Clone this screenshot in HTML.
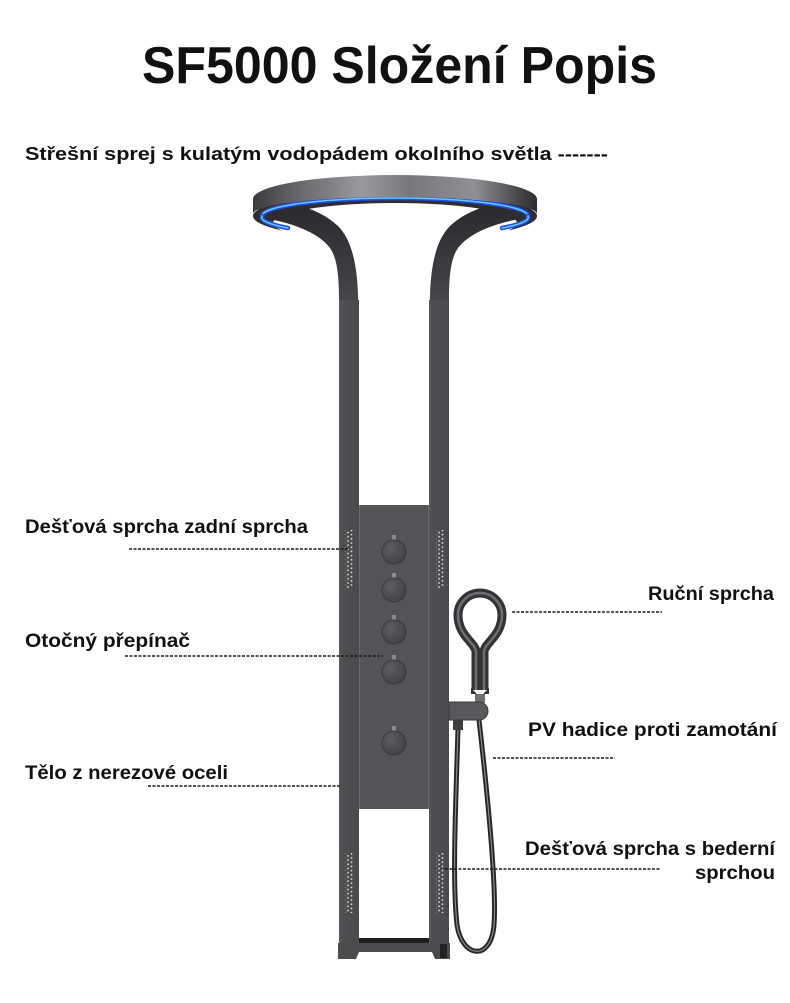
<!DOCTYPE html>
<html><head><meta charset="utf-8"><style>
html,body{margin:0;padding:0;background:#fff;}
svg{display:block;}
text{font-family:"Liberation Sans",Arial,sans-serif;font-weight:bold;fill:#111;}
</style></head><body>
<svg width="790" height="1003" viewBox="0 0 790 1003" xmlns="http://www.w3.org/2000/svg">
<defs>
<linearGradient id="band" x1="0" y1="0" x2="1" y2="0">
<stop offset="0" stop-color="#3a3a3e"/><stop offset="0.12" stop-color="#5e5e62"/>
<stop offset="0.38" stop-color="#9a9a9e"/><stop offset="0.55" stop-color="#78787c"/>
<stop offset="0.78" stop-color="#909094"/><stop offset="0.93" stop-color="#4a4a4e"/>
<stop offset="1" stop-color="#2c2c30"/></linearGradient>
<linearGradient id="armL" x1="0" y1="0" x2="0" y2="1">
<stop offset="0" stop-color="#2a2a2e"/><stop offset="0.6" stop-color="#3e3e42"/><stop offset="1" stop-color="#4f4f52"/></linearGradient>
<linearGradient id="col" x1="0" y1="0" x2="1" y2="0">
<stop offset="0" stop-color="#5a5a5d"/><stop offset="0.15" stop-color="#4f4f52"/><stop offset="1" stop-color="#4a4a4d"/></linearGradient>
<radialGradient id="knob" cx="0.35" cy="0.35" r="0.8">
<stop offset="0" stop-color="#5e5e61"/><stop offset="1" stop-color="#3e3e41"/></radialGradient>
<pattern id="dots" x="0" y="0" width="7" height="4.2" patternUnits="userSpaceOnUse">
<circle cx="1.5" cy="1.2" r="0.9" fill="#dcdcdc"/><circle cx="5" cy="3.3" r="0.9" fill="#dcdcdc"/></pattern>
</defs>

<text x="142" y="83" font-size="52" textLength="515" lengthAdjust="spacingAndGlyphs">SF5000 Složení Popis</text>
<text x="25" y="160" font-size="18" textLength="583" lengthAdjust="spacingAndGlyphs">Střešní sprej s kulatým vodopádem okolního světla -------</text>

<!-- ring underside -->
<ellipse cx="395" cy="216" rx="142" ry="24" fill="#2e2e32"/>
<ellipse cx="395" cy="223" rx="122" ry="20" fill="#fff"/>

<!-- arms -->
<path d="M262,218 C290,222 318,232 330,248 C337,258 339,275 339,300 L339,322 L359,322 L358,295 C357,265 352,240 338,226 C325,214 310,208 295,205 Z" fill="url(#armL)"/>
<path d="M526,218 C498,222 470,232 458,248 C451,258 449,275 449,300 L449,322 L429,322 L430,295 C431,265 436,240 450,226 C463,214 478,208 493,205 Z" fill="url(#armL)"/>

<!-- blue LED -->
<g fill="none" stroke-linecap="round">
<path d="M262,216 A133,18 0 0 1 528,216" stroke="#1f4fe0" stroke-width="4.5"/>
<path d="M262,216 A133,18 0 0 1 528,216" stroke="#6cc6ff" stroke-width="1.5"/>
<path d="M262,216 A133,18 0 0 0 288,228" stroke="#1f4fe0" stroke-width="4.5"/>
<path d="M262,216 A133,18 0 0 0 288,228" stroke="#6cc6ff" stroke-width="1.5"/>
<path d="M528,216 A133,18 0 0 1 502,228" stroke="#1f4fe0" stroke-width="4.5"/>
<path d="M528,216 A133,18 0 0 1 502,228" stroke="#6cc6ff" stroke-width="1.5"/>
</g>

<!-- ring outer band -->
<path d="M253,199 A142,24 0 0 1 537,199 L537,214 A142,17 0 0 0 253,214 Z" fill="url(#band)"/>

<!-- columns -->
<rect x="339" y="300" width="20" height="644" fill="url(#col)"/>
<rect x="429" y="300" width="20" height="644" fill="url(#col)"/>
<line x1="359.5" y1="505" x2="359.5" y2="809" stroke="#6a6a6d" stroke-width="1"/>
<line x1="428.5" y1="505" x2="428.5" y2="809" stroke="#6a6a6d" stroke-width="1"/>
<rect x="360" y="505" width="68" height="304" fill="#545457"/>

<!-- nozzles -->
<rect x="345" y="530" width="9" height="58" fill="url(#dots)"/>
<rect x="436" y="530" width="9" height="58" fill="url(#dots)"/>
<rect x="345" y="853" width="9" height="60" fill="url(#dots)"/>
<rect x="436" y="853" width="9" height="60" fill="url(#dots)"/>

<!-- knobs -->
<g>
<rect x="392" y="535" width="4" height="7" fill="#8a8a8c"/><circle cx="394" cy="552" r="12" fill="url(#knob)" stroke="#3a3a3c"/>
<rect x="392" y="573" width="4" height="7" fill="#8a8a8c"/><circle cx="394" cy="590" r="12" fill="url(#knob)" stroke="#3a3a3c"/>
<rect x="392" y="615" width="4" height="7" fill="#8a8a8c"/><circle cx="394" cy="632" r="12" fill="url(#knob)" stroke="#3a3a3c"/>
<rect x="392" y="655" width="4" height="7" fill="#8a8a8c"/><circle cx="394" cy="672" r="12" fill="url(#knob)" stroke="#3a3a3c"/>
<rect x="392" y="726" width="4" height="7" fill="#8a8a8c"/><circle cx="394" cy="743" r="12" fill="url(#knob)" stroke="#3a3a3c"/>
</g>

<!-- base -->
<rect x="359" y="938" width="70" height="6" fill="#1e1e20"/>
<path d="M338,943 L450,943 L450,959 L435,959 L432,952 L359,952 L356,959 L338,959 Z" fill="#4c4c4f"/>
<rect x="440" y="944" width="7" height="14" fill="#222"/>

<!-- hose -->
<path d="M458,728 C456,800 452,880 457,925 C462,958 491,962 494,925 C497,885 487,790 479,720" fill="none" stroke="#262628" stroke-width="5"/>
<path d="M458,728 C456,800 452,880 457,925 C462,958 491,962 494,925 C497,885 487,790 479,720" fill="none" stroke="#8a8a8c" stroke-width="1.2"/>
<rect x="453" y="719" width="10" height="11" fill="#3c3c3e"/>

<!-- hand shower -->
<path d="M476,690 L476,652 C476,643 458,636 458,615 A22,22 0 1 1 502,615 C502,636 484,643 484,652 L484,690" fill="none" stroke="#333336" stroke-width="9" stroke-linejoin="round"/>
<path d="M476,690 L476,652 C476,643 458,636 458,615 A22,22 0 1 1 502,615 C502,636 484,643 484,652 L484,690" fill="none" stroke="#6e6e72" stroke-width="2.5" stroke-linejoin="round"/>
<path d="M471,688 L480,697 L489,688 L489,694 L471,694 Z" fill="#333336"/>
<rect x="475" y="694" width="10" height="9" fill="#707073"/>
<path d="M449,702 L479,702 A9,9 0 0 1 479,720 L449,720 Z" fill="#58585b" stroke="#3a3a3c"/>

<!-- labels -->
<text x="25" y="533" font-size="19" textLength="283" lengthAdjust="spacingAndGlyphs">Dešťová sprcha zadní sprcha</text>
<text x="25" y="647" font-size="19" textLength="165" lengthAdjust="spacingAndGlyphs">Otočný přepínač</text>
<text x="25" y="779" font-size="19" textLength="203" lengthAdjust="spacingAndGlyphs">Tělo z nerezové oceli</text>
<text x="648" y="600" font-size="19" textLength="126" lengthAdjust="spacingAndGlyphs">Ruční sprcha</text>
<text x="528" y="736" font-size="19" textLength="249" lengthAdjust="spacingAndGlyphs">PV hadice proti zamotání</text>
<text x="525" y="855" font-size="19" textLength="250" lengthAdjust="spacingAndGlyphs">Dešťová sprcha s bederní</text>
<text x="695" y="879" font-size="19" textLength="80" lengthAdjust="spacingAndGlyphs">sprchou</text>

<!-- dotted leaders -->
<g stroke="#1a1a1a" stroke-width="1.6" stroke-dasharray="3 1.5" fill="none">
<line x1="129" y1="549" x2="348" y2="549"/>
<line x1="125" y1="656" x2="383" y2="656"/>
<line x1="148" y1="786" x2="340" y2="786"/>
<line x1="512" y1="612" x2="662" y2="612"/>
<line x1="493" y1="758" x2="615" y2="758"/>
<line x1="445" y1="869" x2="660" y2="869"/>
</g>
</svg>
</body></html>
